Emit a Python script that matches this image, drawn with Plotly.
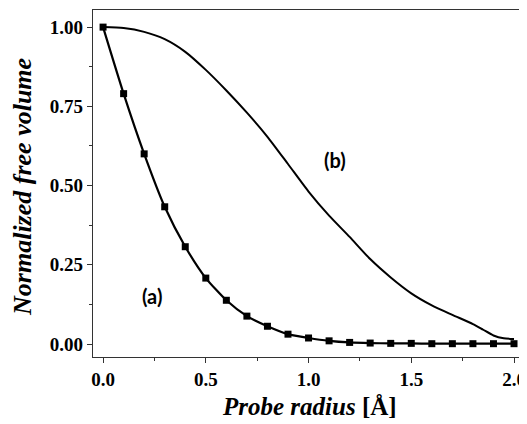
import plotly.graph_objects as go

# Data
radius_a = [0.0, 0.1, 0.2, 0.3, 0.4, 0.5, 0.6, 0.7, 0.8, 0.9, 1.0,
            1.1, 1.2, 1.3, 1.4, 1.5, 1.6, 1.7, 1.8, 1.9, 2.0]
volume_a = [1.0, 0.79, 0.60, 0.433, 0.307, 0.208, 0.138, 0.088, 0.056, 0.031, 0.019,
            0.010, 0.005, 0.003, 0.002, 0.002, 0.001, 0.001, 0.001, 0.001, 0.001]

radius_b = [0.0, 0.1, 0.2, 0.3, 0.4, 0.5, 0.6, 0.7, 0.8, 0.9, 1.0,
            1.1, 1.2, 1.3, 1.4, 1.5, 1.6, 1.7, 1.8, 1.85, 1.9, 1.95, 2.0]
volume_b = [1.0, 0.997, 0.985, 0.962, 0.922, 0.865, 0.80, 0.73, 0.654, 0.568, 0.481,
            0.405, 0.338, 0.268, 0.21, 0.16, 0.122, 0.092, 0.063, 0.045, 0.027, 0.018, 0.016]

x_ticks = [0.0, 0.5, 1.0, 1.5, 2.0]
x_labels = ["0.0", "0.5", "1.0", "1.5", "2.0"]
y_ticks = [0.0, 0.25, 0.5, 0.75, 1.0]
y_labels = ["0.00", "0.25", "0.50", "0.75", "1.00"]

fig = go.Figure()
fig.add_trace(go.Scatter(x=radius_b, y=volume_b, mode="lines",
                         line=dict(color="black", width=2, shape="spline", smoothing=0.6),
                         showlegend=False))
fig.add_trace(go.Scatter(x=radius_a, y=volume_a, mode="lines+markers",
                         line=dict(color="black", width=2.2, shape="spline", smoothing=0.6),
                         marker=dict(symbol="square", size=7, color="black"),
                         showlegend=False))

serif = "Liberation Serif"
axis_common = dict(
    showline=True, linecolor="#333", linewidth=1.3, mirror=True,
    ticks="outside", ticklen=5, tickwidth=1.2, tickcolor="#333",
    showgrid=False, zeroline=False,
    tickfont=dict(family=serif, size=19, color="black", weight="bold"),
)
fig.update_xaxes(range=[-0.049, 2.034], tickvals=x_ticks, ticktext=x_labels,
                 minor=dict(tickvals=[0.25, 0.75, 1.25, 1.75], ticklen=3, tickcolor="#333", ticks="outside"),
                 **axis_common)
fig.update_yaxes(range=[-0.041, 1.054], tickvals=y_ticks, ticktext=y_labels,
                 minor=dict(tickvals=[0.125, 0.375, 0.625, 0.875], ticklen=3, tickcolor="#333", ticks="outside"),
                 **axis_common)

fig.add_annotation(text="<b><i>Probe radius</i> [Å]</b>", xref="paper", yref="paper",
                   x=0.507, y=-0.143, xanchor="center", yanchor="middle", showarrow=False,
                   font=dict(family=serif, size=25, color="black"))
fig.add_annotation(text="<b><i>Normalized free volume</i></b>", xref="paper", yref="paper",
                   x=-0.1636, y=0.49, xanchor="center", yanchor="middle", showarrow=False,
                   textangle=-90, font=dict(family=serif, size=26, color="black"))
fig.add_annotation(text="<b>(a)</b>", x=0.238, y=0.15, xref="x", yref="y", showarrow=False,
                   font=dict(family="Lato", size=20, color="black"))
fig.add_annotation(text="<b>(b)</b>", x=1.13, y=0.58, xref="x", yref="y", showarrow=False,
                   font=dict(family="Lato", size=20, color="black"))

# page body has an 8px margin: shift the figure accordingly
fig.update_layout(width=519, height=416, margin=dict(l=85, r=6, t=2, b=67),
                  plot_bgcolor="white", paper_bgcolor="white")
fig.write_html("out.html")
